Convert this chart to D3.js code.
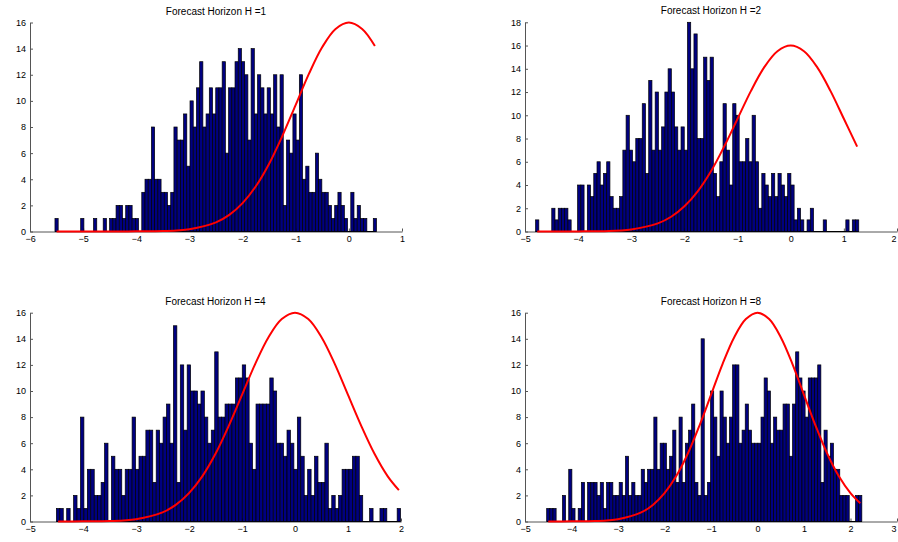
<!DOCTYPE html>
<html>
<head>
<meta charset="utf-8">
<script src="https://cdn.jsdelivr.net/npm/d3@7/dist/d3.min.js"></script>
<style>
  body { margin: 0; background: #fff; }
  svg  { display: block; font-family: "Liberation Sans", Arial, Helvetica, sans-serif; }
</style>
</head>
<body>
<svg id="chart" width="898" height="542"></svg>
<script>
// =====================================================
// Data
// =====================================================
const titles = [
  "Forecast Horizon H =1",
  "Forecast Horizon H =2",
  "Forecast Horizon H =4",
  "Forecast Horizon H =8"
];

// histogram counts, 100 bins each
const countsH1 = [
  1,0,0,0,0,0,0,0,1,0, 0,0,1,0,0,1,0,1,1,2, 2,1,2,2,1,1,0,3,4,4,
  8,4,4,3,3,2,3,8,7,7, 9,5,10,8,11,13,8,9,11,9, 11,11,13,6,11,11,13,14,13,12,
  7,14,9,12,11,9,11,9,12,8, 12,2,7,6,9,7,12,4,5,3, 3,6,4,3,3,2,1,2,3,2,
  1,0,3,1,2,1,1,0,0,1
];
const countsH2 = [
  1,0,0,0,0,2,1,2,2,2, 1,0,0,4,4,0,4,3,5,6, 4,5,6,3,2,2,3,7,10,7,
  6,8,8,11,5,13,7,12,7,9, 12,14,12,9,7,9,7,18,14,17, 8,8,15,13,15,5,3,6,11,7,
  4,11,10,6,6,8,6,10,6,2, 5,4,3,5,3,5,4,3,5,4, 1,2,1,0,1,2,0,0,0,1,
  0,0,0,0,0,0,1,0,1,1
];
const countsH4 = [
  1,1,0,1,0,2,1,8,1,4, 4,2,2,3,6,0,5,4,4,2, 4,4,8,4,5,5,7,7,3,7,
  6,8,9,6,15,3,12,7,12,10, 10,9,10,8,6,7,13,8,8,9, 9,9,11,11,12,11,6,4,9,9,
  9,9,11,10,6,6,5,7,6,4, 8,5,2,4,2,5,3,3,6,1, 2,1,2,4,4,4,5,5,2,0,
  0,1,0,0,1,1,0,0,0,1
];
const countsH8 = [
  1,1,1,0,0,2,0,4,1,0, 1,3,0,3,3,3,2,3,1,3, 3,2,2,3,2,5,2,3,2,2,
  4,3,4,4,8,4,6,6,4,5, 7,3,8,3,6,7,9,3,2,14, 2,3,10,8,5,10,8,6,8,12,
  12,6,7,9,7,6,6,6,8,11, 10,6,8,7,7,9,9,5,9,13, 11,10,8,11,11,11,12,3,7,5,
  6,4,4,2,2,2,0,0,2,2
];

// centre of first and last bin
const binRangeH1 = [-5.50, 0.49];
const binRangeH2 = [-4.77, 1.25];
const binRangeH4 = [-4.47, 1.96];
const binRangeH8 = [-4.50, 2.21];

// red reference curve
const redX = [-4.5, -4, -3.5, -3, -2.5, -2.25, -2, -1.75, -1.5, -1.25, -1, -0.75, -0.5, -0.25, 0,
              0.25, 0.5, 0.75, 1, 1.25, 1.5, 1.75, 2];
const redY = [0, 0.01, 0.03, 0.18, 0.70, 1.27, 2.17, 3.46, 5.19, 7.33, 9.70, 12.08, 14.12, 15.51, 16,
              15.51, 14.12, 12.08, 9.70, 7.33, 5.19, 3.46, 2.17];
// curve value at the last bin of each panel
const redEndY = [14.2, 7.3, 2.4, 1.4];

// axis ticks
const xTicksH1 = [-6, -5, -4, -3, -2, -1, 0, 1];
const xTicksH2 = [-5, -4, -3, -2, -1, 0, 1, 2];
const xTicksH4 = [-5, -4, -3, -2, -1, 0, 1, 2];
const xTicksH8 = [-5, -4, -3, -2, -1, 0, 1, 2, 3];
const yTicks16 = [0, 2, 4, 6, 8, 10, 12, 14, 16];
const yTicks18 = [0, 2, 4, 6, 8, 10, 12, 14, 16, 18];


// =====================================================
// Layout
// =====================================================
const panels = [
  { title: titles[0], counts: countsH1, bins: binRangeH1, xTicks: xTicksH1, yTicks: yTicks16, endY: redEndY[0],
    box: { l: 30,  r: 402, t: 22.5,  b: 231.5 } },
  { title: titles[1], counts: countsH2, bins: binRangeH2, xTicks: xTicksH2, yTicks: yTicks18, endY: redEndY[1],
    box: { l: 525, r: 897, t: 22.3,  b: 231.5 } },
  { title: titles[2], counts: countsH4, bins: binRangeH4, xTicks: xTicksH4, yTicks: yTicks16, endY: redEndY[2],
    box: { l: 30,  r: 401, t: 312.7, b: 521.5 } },
  { title: titles[3], counts: countsH8, bins: binRangeH8, xTicks: xTicksH8, yTicks: yTicks16, endY: redEndY[3],
    box: { l: 525, r: 897, t: 312.7, b: 521.5 } }
];

const svg = d3.select("#chart");
const W   = +svg.attr("width");


// =====================================================
// Plotting
// =====================================================
panels.forEach(p => {
  const xDom = d3.extent(p.xTicks);
  const yDom = d3.extent(p.yTicks);
  const x = d3.scaleLinear().domain(xDom).range([p.box.l, p.box.r]);
  const y = d3.scaleLinear().domain(yDom).range([p.box.b, p.box.t]);

  const g = svg.append("g");

  // ----------
  // Axes (MATLAB style: ticks pointing inward)
  // =================
  const xAxis = g.append("g")
    .attr("transform", `translate(0, ${p.box.b})`)
    .call(d3.axisBottom(x).tickValues(p.xTicks).tickFormat(d3.format("d"))
      .tickSizeInner(-3).tickSizeOuter(0).tickPadding(4));
  const yAxis = g.append("g")
    .attr("transform", `translate(${p.box.l}, 0)`)
    .call(d3.axisLeft(y).tickValues(p.yTicks).tickFormat(d3.format("d"))
      .tickSizeInner(-3).tickSizeOuter(0).tickPadding(4));

  [xAxis, yAxis].forEach(a => {
    a.select(".domain").attr("stroke", "#555").attr("stroke-width", 1);
    a.selectAll(".tick line").attr("stroke", "#555");
    a.selectAll(".tick text")
      .attr("fill", "#000")
      .style("font-size", "9px")
      .style("font-family", "\"Liberation Sans\", Arial, sans-serif");
  });

  // last x label sits on the window edge: keep it inside
  if (p.box.r > W - 4) {
    xAxis.selectAll(".tick text")
      .filter(d => d === xDom[1])
      .attr("text-anchor", "end")
      .attr("x", -1);
  }

  // ----------
  // Histogram bars
  // =================
  const n    = p.counts.length;
  const step = (p.bins[1] - p.bins[0]) / (n - 1);
  const bars = p.counts.map((c, i) => ({ c: c, mid: p.bins[0] + i * step }));

  // zero bins show as a black edge along the baseline
  g.append("line")
    .attr("x1", x(p.bins[0] - step / 2))
    .attr("x2", x(p.bins[1] + step / 2))
    .attr("y1", y(0)).attr("y2", y(0))
    .attr("stroke", "#000").attr("stroke-width", 1);

  g.selectAll("rect.bar")
    .data(bars.filter(d => d.c > 0))
    .enter()
    .append("rect")
    .attr("class", "bar")
    .attr("x", d => x(d.mid - step / 2))
    .attr("width", d => x(d.mid + step / 2) - x(d.mid - step / 2))
    .attr("y", d => y(d.c))
    .attr("height", d => y(0) - y(d.c))
    .attr("fill", "#000080")
    .attr("stroke", "#000")
    .attr("stroke-width", 0.7);

  // ----------
  // Red curve
  // =================
  const pts = [[p.bins[0], 0]];
  redX.forEach((v, i) => { if (v > p.bins[0] && v < p.bins[1]) pts.push([v, redY[i]]); });
  pts.push([p.bins[1], p.endY]);

  const line = d3.line()
    .x(d => x(d[0]))
    .y(d => y(d[1]))
    .curve(d3.curveCatmullRom.alpha(0.5));
  g.append("path")
    .datum(pts)
    .attr("fill", "none")
    .attr("stroke", "#ff0000")
    .attr("stroke-width", 2)
    .attr("d", line);

  // ----------
  // Title
  // =================
  g.append("text")
    .attr("x", (p.box.l + p.box.r) / 2)
    .attr("y", p.box.t - 8)
    .attr("text-anchor", "middle")
    .style("font-size", "10px")
    .attr("fill", "#000")
    .text(p.title);
});
</script>
</body>
</html>
